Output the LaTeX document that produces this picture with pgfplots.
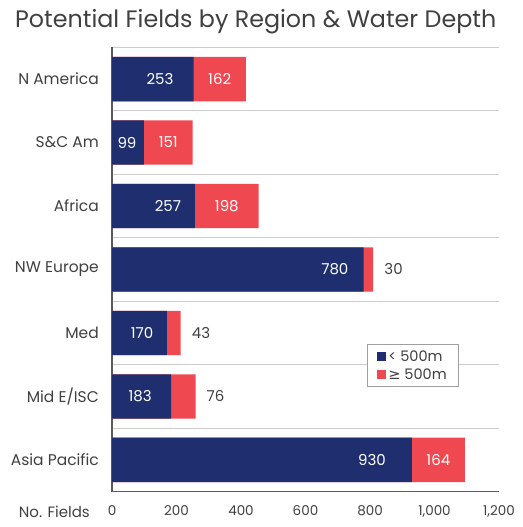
\documentclass[border=0pt]{standalone}
\usepackage{fontspec}
\setmainfont{Poppins}
\newfontfamily\djv{DejaVu Sans}
\usepackage{pgfplots}
\pgfplotsset{compat=1.18}
\definecolor{navy}{RGB}{31,46,110}
\definecolor{redbar}{RGB}{240,72,80}
\definecolor{txt}{RGB}{64,64,64}
\definecolor{gridc}{RGB}{205,205,205}
\definecolor{axc}{RGB}{90,90,90}
\begin{document}
\begin{tikzpicture}
\begin{axis}[
 name=ax,
 scale only axis, width=387pt, height=444.4pt,
 xmin=0, xmax=1200, ymin=-0.5, ymax=6.5, y dir=reverse,
 enlargelimits=false,
 bar width=0.7,
 xtick={0,200,...,1200},
 ytick={0,...,6},
 yticklabels={N America, S\&C Am, Africa, NW Europe, Med, Mid E/ISC, Asia Pacific},
 minor ytick={-0.5,0.5,...,5.5},
 yminorgrids=true,
 minor grid style={draw=gridc, line width=0.9pt},
 axis x line*=bottom, axis y line*=left,
 axis line style={draw=axc, line width=1.1pt},
 major tick length=0pt, minor tick length=0pt,
 tick style={draw=none},
 /pgf/number format/assume math mode=true,
 /pgf/number format/1000 sep={,},
 xticklabel style={anchor=north, inner sep=0pt, yshift=-14pt, font=\fontsize{13.5}{15}\selectfont, text=txt},
 yticklabel style={anchor=east, inner sep=0pt, xshift=-13pt, font=\fontsize{15.5}{18}\selectfont, text=txt},
 legend style={at={(axis description cs:0.659,0.332)}, anchor=north west, draw=gray!75, line width=0.8pt, fill=white, font=\fontsize{14.5}{17}\selectfont, text=txt, inner xsep=10pt, inner ysep=4pt, row sep=2pt, cells={anchor=west}},
 reverse legend,
 legend image code/.code={\fill[#1] (0pt,-4.5pt) rectangle (9pt,4.5pt);},
 clip=false,
]
\addplot[xbar, bar shift=0pt, fill=redbar, draw=none] coordinates {(415,0) (250,1) (455,2) (810,3) (213,4) (259,5) (1094,6)};
\addlegendentry{{\djv ≥} 500m}
\addplot[xbar, bar shift=0pt, fill=navy, draw=none] coordinates {(253,0) (99,1) (257,2) (780,3) (170,4) (183,5) (930,6)};
\addlegendentry{< 500m}
% blue segment labels
\addplot[forget plot, only marks, mark=none, nodes near coords, point meta=explicit symbolic,
  nodes near coords style={anchor=center, inner sep=0pt, text=white, font=\fontsize{15}{17}\selectfont}]
  coordinates {(149,0)[253] (46.5,1)[99] (173.5,2)[257] (691,3)[780] (93,4)[170] (87,5)[183] (806,6)[930]};
% red segment labels inside
\addplot[forget plot, only marks, mark=none, nodes near coords, point meta=explicit symbolic,
  nodes near coords style={anchor=center, inner sep=0pt, text=white, font=\fontsize{15}{17}\selectfont}]
  coordinates {(334,0)[162] (174.5,1)[151] (356,2)[198] (1012,6)[164]};
% red segment labels outside
\addplot[forget plot, only marks, mark=none, nodes near coords, point meta=explicit symbolic,
  nodes near coords style={anchor=west, inner sep=0pt, xshift=11pt, text=txt, font=\fontsize{15}{17}\selectfont}]
  coordinates {(810,3)[30] (213,4)[43] (259,5)[76]};
\end{axis}
\node[anchor=base west, inner sep=0pt, text=txt, font=\fontsize{23.8}{28}\selectfont] at ([xshift=-97pt,yshift=20pt]ax.north west) {Potential Fields by Region \& Water Depth};
\node[anchor=north east, inner sep=0pt, text=txt, font=\fontsize{15}{17}\selectfont] at ([xshift=-22pt,yshift=-14pt]ax.south west) {No. Fields};
\pgfresetboundingbox
\path[use as bounding box] ([xshift=-112pt,yshift=-35.3pt]ax.south west) rectangle ++(522pt,527pt);
\end{tikzpicture}
\end{document}
